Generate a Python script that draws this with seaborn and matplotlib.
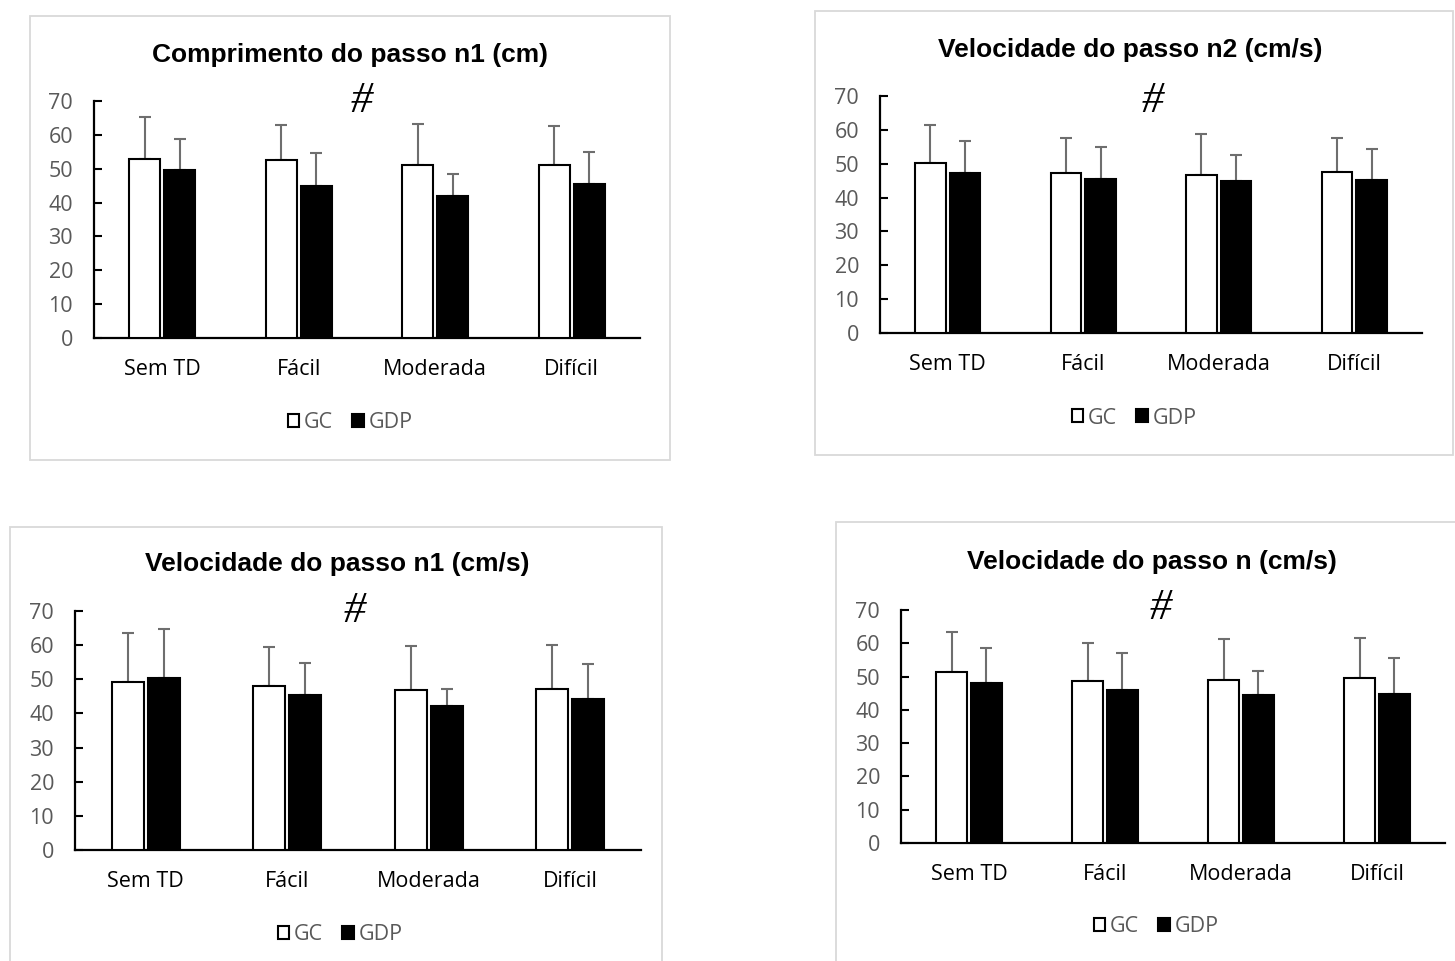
import matplotlib
matplotlib.use("Agg")
import matplotlib.pyplot as plt
from matplotlib.patches import Rectangle, Patch
import numpy as np
import pandas as pd
import seaborn as sns

# ---- data -------------------------------------------------------------
condicoes = ["Sem TD", "Fácil", "Moderada", "Difícil"]
grupos = ["GC", "GDP"]

titulos = [
    "Comprimento do passo n1 (cm)",
    "Velocidade do passo n2 (cm/s)",
    "Velocidade do passo n1 (cm/s)",
    "Velocidade do passo n (cm/s)",
]

# Comprimento do passo n1 (cm)
comp_n1_gc_media = [52.8, 52.5, 51.0, 51.1]
comp_n1_gc_dp = [12.5, 10.5, 12.1, 11.5]
comp_n1_gdp_media = [49.7, 45.0, 42.0, 45.5]
comp_n1_gdp_dp = [9.1, 9.7, 6.3, 9.4]

# Velocidade do passo n2 (cm/s)
vel_n2_gc_media = [50.3, 47.3, 46.7, 47.7]
vel_n2_gc_dp = [11.1, 10.3, 12.0, 10.0]
vel_n2_gdp_media = [47.2, 45.4, 44.8, 45.3]
vel_n2_gdp_dp = [9.4, 9.4, 7.7, 9.0]

# Velocidade do passo n1 (cm/s)
vel_n1_gc_media = [49.2, 48.1, 46.8, 47.2]
vel_n1_gc_dp = [14.4, 11.5, 13.0, 12.8]
vel_n1_gdp_media = [50.5, 45.5, 42.2, 44.1]
vel_n1_gdp_dp = [14.3, 9.4, 4.9, 10.5]

# Velocidade do passo n (cm/s)
vel_n_gc_media = [51.3, 48.6, 49.1, 49.6]
vel_n_gc_dp = [12.1, 11.5, 12.1, 12.0]
vel_n_gdp_media = [48.1, 46.1, 44.6, 44.8]
vel_n_gdp_dp = [10.4, 11.0, 7.2, 10.7]

y_ticks = [0, 10, 20, 30, 40, 50, 60, 70]
marca = "#"
# ------------------------------------------------------------------------

medias = [
    (comp_n1_gc_media, comp_n1_gdp_media),
    (vel_n2_gc_media, vel_n2_gdp_media),
    (vel_n1_gc_media, vel_n1_gdp_media),
    (vel_n_gc_media, vel_n_gdp_media),
]
desvios = [
    (comp_n1_gc_dp, comp_n1_gdp_dp),
    (vel_n2_gc_dp, vel_n2_gdp_dp),
    (vel_n1_gc_dp, vel_n1_gdp_dp),
    (vel_n_gc_dp, vel_n_gdp_dp),
]

W, H = 1455, 961
sns.set_theme(style="white")
plt.rcParams["font.family"] = ["Open Sans", "DejaVu Sans"]

fig = plt.figure(figsize=(W / 100, H / 100), dpi=100)
fig.patch.set_facecolor("white")

# panel geometry in pixels: frame box, plot area, title, legend, '#'
paineis = [
    dict(box=(30, 16, 670, 460), ax=(94, 101, 640, 338), tit=(350, 55),
         leg=(350, 423), hx=1.46, hy=70.0),
    dict(box=(815, 11, 1453, 455), ax=(880, 96, 1422, 333), tit=(1130, 50),
         leg=(1134, 418), hx=1.51, hy=68.5),
    dict(box=(10, 527, 662, 975), ax=(75, 611, 641, 850), tit=(337, 564),
         leg=(340, 935), hx=1.48, hy=70.0),
    dict(box=(836, 522, 1470, 975), ax=(901, 610, 1445, 843), tit=(1152, 562),
         leg=(1156, 927), hx=1.41, hy=70.5),
]

cinza = "#595959"
cinza_erro = "#6e6e6e"

for p, titulo, (m_gc, m_gdp), (d_gc, d_gdp) in zip(paineis, titulos, medias, desvios):
    x0, y0, x1, y1 = p["box"]
    fig.patches.append(Rectangle((x0 / W, 1 - y1 / H), (x1 - x0) / W, (y1 - y0) / H,
                                 transform=fig.transFigure, fill=False,
                                 edgecolor="#d9d9d9", linewidth=1.3, zorder=0))

    l, t, r, b = p["ax"]
    ax = fig.add_axes([l / W, 1 - b / H, (r - l) / W, (b - t) / H])
    ax.set_facecolor("none")

    df = pd.DataFrame({
        "condicao": condicoes * 2,
        "grupo": [grupos[0]] * 4 + [grupos[1]] * 4,
        "valor": list(m_gc) + list(m_gdp),
    })
    sns.barplot(data=df, x="condicao", y="valor", hue="grupo", order=condicoes,
                hue_order=grupos, palette={"GC": "white", "GDP": "black"},
                edgecolor="black", linewidth=1.5, width=0.51, gap=0.11,
                errorbar=None, legend=False, ax=ax, zorder=3)

    for cont, med, dp in zip(ax.containers, (m_gc, m_gdp), (d_gc, d_gdp)):
        xs = [bar.get_x() + bar.get_width() / 2 for bar in cont]
        ax.errorbar(xs, med, yerr=[np.zeros(len(dp)), dp], fmt="none",
                    ecolor=cinza_erro, elinewidth=1.5, capsize=4.5,
                    capthick=1.5, zorder=2)

    ax.set_xlim(-0.5, 3.5)
    ax.set_ylim(0, 70)
    ax.set_yticks(y_ticks)
    ax.set_xlabel("")
    ax.set_ylabel("")
    for s in ("top", "right"):
        ax.spines[s].set_visible(False)
    for s in ("left", "bottom"):
        ax.spines[s].set_color("black")
        ax.spines[s].set_linewidth(1.6)
    ax.tick_params(axis="y", direction="in", length=6, width=1.5, color="black",
                   pad=15, labelsize=15.5, labelcolor=cinza, left=True)
    ax.tick_params(axis="x", length=0, pad=15, labelsize=15.5, labelcolor="black")

    ax.text(p["hx"], p["hy"], marca, ha="center", va="center", fontsize=32,
            family="Liberation Serif", style="italic", color="black", clip_on=False)

    tx, ty = p["tit"]
    fig.text(tx / W, 1 - ty / H, titulo, ha="center", va="center", fontsize=19,
             fontweight="bold", family="Liberation Sans", color="black")

    handles = [Patch(facecolor="white", edgecolor="black", linewidth=1.5),
               Patch(facecolor="black", edgecolor="black", linewidth=1.5)]
    lx, ly = p["leg"]
    leg = fig.legend(handles, grupos, loc="center", bbox_to_anchor=(lx / W, 1 - ly / H),
                     ncol=2, frameon=False, fontsize=15.5, handlelength=0.55,
                     handleheight=0.55, handletextpad=0.2, columnspacing=0.9,
                     borderpad=0)
    for txt in leg.get_texts():
        txt.set_color(cinza)

fig.savefig("out.png", dpi=100, facecolor="white")
